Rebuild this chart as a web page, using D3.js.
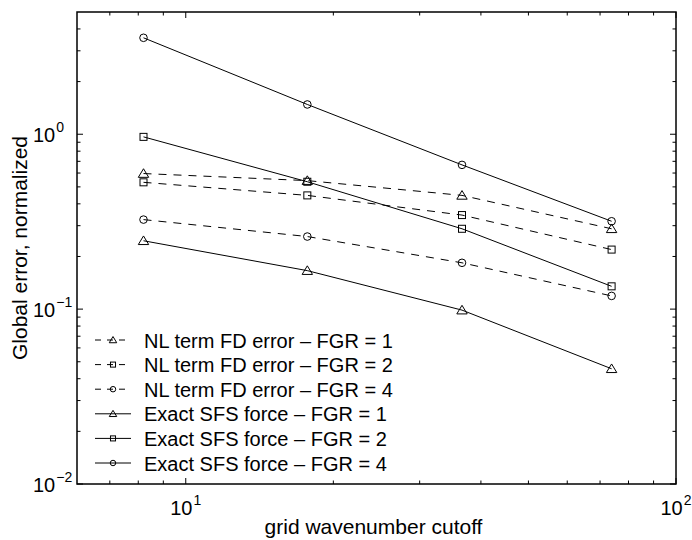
<!DOCTYPE html>
<html>
<head>
<meta charset="utf-8">
<script src="https://cdn.jsdelivr.net/npm/d3@7"></script>
<style>
  html, body { margin: 0; padding: 0; background: #fff; }
  svg { display: block; }
  text { font-family: "Liberation Sans", Arial, Helvetica, sans-serif; fill: #000; }
</style>
</head>
<body>
<svg id="chart" width="692" height="540"></svg>
<script>
// Grid wavenumber cutoff (x) shared by all series
const cutoffs = [8.2, 17.7, 36.6, 73.9];

// Normalized global error for each case
const nlFgr1    = [0.596, 0.543, 0.447, 0.288];
const nlFgr2    = [0.531, 0.447, 0.345, 0.219];
const nlFgr4    = [0.325, 0.260, 0.184, 0.119];
const exactFgr1 = [0.246, 0.166, 0.0987, 0.0456];
const exactFgr2 = [0.966, 0.535, 0.288, 0.135];
const exactFgr4 = [3.56, 1.48, 0.668, 0.318];

const seriesNames = [
  "NL term FD error \u2013 FGR = 1",
  "NL term FD error \u2013 FGR = 2",
  "NL term FD error \u2013 FGR = 4",
  "Exact SFS force \u2013 FGR = 1",
  "Exact SFS force \u2013 FGR = 2",
  "Exact SFS force \u2013 FGR = 4"
];
const seriesValues = [nlFgr1, nlFgr2, nlFgr4, exactFgr1, exactFgr2, exactFgr4];
const seriesMarkers = ["triangle", "square", "circle", "triangle", "square", "circle"];
const seriesDashed = [true, true, true, false, false, false];

const xMajorTicks = [10, 100];
const yMajorTicks = [0.01, 0.1, 1];
const xLabel = "grid wavenumber cutoff";
const yLabel = "Global error, normalized";

const svg = d3.select("#chart");
const plot = { left: 77, right: 676, top: 12, bottom: 484 };
const fontSize = 20, supSize = 14, titleSize = 21;

const x = d3.scaleLog().domain([6, 100]).range([plot.left, plot.right]);
const y = d3.scaleLog().domain([0.01, 5]).range([plot.bottom, plot.top]);

// minor ticks inside each decade
function minorTicks(scale) {
  const [d0, d1] = scale.domain();
  const out = [];
  for (let e = Math.floor(Math.log10(d0)); e <= Math.ceil(Math.log10(d1)); e++) {
    for (let m = 2; m <= 9; m++) {
      const v = m * Math.pow(10, e);
      if (v > d0 && v < d1) out.push(v);
    }
  }
  return out;
}

const majorLen = 6, minorLen = 3.5;
const axisG = svg.append("g").attr("stroke", "#000").attr("stroke-width", 1);

// x ticks, bottom and top, pointing inward
function xTick(v, len) {
  axisG.append("line").attr("x1", x(v)).attr("x2", x(v))
    .attr("y1", plot.bottom).attr("y2", plot.bottom - len);
  axisG.append("line").attr("x1", x(v)).attr("x2", x(v))
    .attr("y1", plot.top).attr("y2", plot.top + len);
}
function yTick(v, len) {
  axisG.append("line").attr("y1", y(v)).attr("y2", y(v))
    .attr("x1", plot.left).attr("x2", plot.left + len);
  axisG.append("line").attr("y1", y(v)).attr("y2", y(v))
    .attr("x1", plot.right).attr("x2", plot.right - len);
}
minorTicks(x).forEach(v => xTick(v, minorLen));
xMajorTicks.forEach(v => xTick(v, majorLen));
minorTicks(y).forEach(v => yTick(v, minorLen));
yMajorTicks.forEach(v => yTick(v, majorLen));

// box
svg.append("rect")
  .attr("x", plot.left).attr("y", plot.top)
  .attr("width", plot.right - plot.left).attr("height", plot.bottom - plot.top)
  .attr("fill", "none").attr("stroke", "#000").attr("stroke-width", 1.5);

// power-of-ten tick labels
function powLabel(g, v) {
  const e = Math.round(Math.log10(v));
  g.append("tspan").text("10").attr("font-size", fontSize);
  g.append("tspan").text(e < 0 ? "\u2212" + (-e) : String(e))
    .attr("font-size", supSize).attr("dy", -10).attr("dx", 1);
}
xMajorTicks.forEach(v => {
  const t = svg.append("text").attr("x", x(v)).attr("y", 515).attr("text-anchor", "middle");
  powLabel(t, v);
});
// y labels: the "10" base is left-aligned in a fixed column
yMajorTicks.forEach(v => {
  const t = svg.append("text").attr("x", 33).attr("y", y(v) + 8).attr("text-anchor", "start");
  powLabel(t, v);
});

// axis titles
svg.append("text").attr("x", (plot.left + plot.right) / 2 - 3).attr("y", 534)
  .attr("text-anchor", "middle").attr("font-size", titleSize).text(xLabel);
svg.append("text").attr("transform", `translate(27,${(plot.top + plot.bottom) / 2}) rotate(-90)`)
  .attr("text-anchor", "middle").attr("font-size", titleSize).text(yLabel);

// marker shapes (unfilled)
function drawMarker(g, kind, cx, cy, s) {
  if (kind === "circle") {
    g.append("circle").attr("cx", cx).attr("cy", cy).attr("r", 3.8 * s);
  } else if (kind === "square") {
    const h = 3.5 * s;
    g.append("rect").attr("x", cx - h).attr("y", cy - h).attr("width", 2 * h).attr("height", 2 * h);
  } else {
    const pts = [[cx, cy - 4.8 * s], [cx - 5.2 * s, cy + 3.8 * s], [cx + 5.2 * s, cy + 3.8 * s]];
    g.append("path").attr("d", "M" + pts.map(p => p.join(",")).join("L") + "Z");
  }
}

const line = d3.line().x(d => x(d[0])).y(d => y(d[1]));
const dataG = svg.append("g").attr("fill", "none").attr("stroke", "#000").attr("stroke-width", 1);

seriesValues.forEach((vals, i) => {
  const pts = cutoffs.map((c, k) => [c, vals[k]]);
  dataG.append("path").attr("d", line(pts))
    .attr("stroke-dasharray", seriesDashed[i] ? "8,7" : null);
  const mg = dataG.append("g");
  pts.forEach(p => drawMarker(mg, seriesMarkers[i], x(p[0]), y(p[1]), 1));
});

// legend, no frame
const legendG = svg.append("g");
const legY0 = 340, legStep = 24.6;
seriesNames.forEach((name, i) => {
  const cy = legY0 + i * legStep;
  const row = legendG.append("g").attr("fill", "none").attr("stroke", "#000").attr("stroke-width", 1);
  row.append("line").attr("x1", 95).attr("x2", 131).attr("y1", cy).attr("y2", cy)
    .attr("stroke-dasharray", seriesDashed[i] ? "6,6" : null);
  drawMarker(row, seriesMarkers[i], 113, cy, 0.72);
  legendG.append("text").attr("x", 144).attr("y", cy + 7.5).attr("font-size", fontSize).text(name);
});
</script>
</body>
</html>
